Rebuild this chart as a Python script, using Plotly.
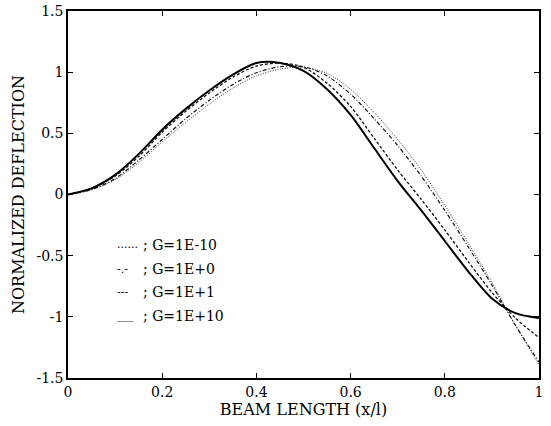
import plotly.graph_objects as go

x_vals = [0, .05, .1, .15, .2, .25, .3, .35, .4, .45, .5, .55, .6, .65, .7, .75, .8, .85, .9, .95, 1.0]

g_1e_10 = [0, 0.04, 0.12, 0.26, 0.43, 0.59, 0.74, 0.87, 0.97, 1.025, 1.04, 0.99, 0.86, 0.67, 0.45, 0.20, -0.09, -0.40, -0.72, -1.07, -1.39]
g_1e0 = [0, 0.04, 0.13, 0.28, 0.45, 0.62, 0.77, 0.90, 0.995, 1.045, 1.045, 0.97, 0.82, 0.62, 0.40, 0.15, -0.13, -0.43, -0.74, -1.07, -1.37]
g_1e1 = [0, 0.05, 0.15, 0.31, 0.51, 0.68, 0.83, 0.96, 1.05, 1.075, 1.04, 0.91, 0.72, 0.46, 0.20, -0.04, -0.29, -0.55, -0.80, -1.01, -1.17]
g_1e10 = [0, 0.05, 0.16, 0.33, 0.53, 0.70, 0.85, 0.98, 1.075, 1.075, 1.01, 0.86, 0.65, 0.38, 0.11, -0.13, -0.38, -0.63, -0.85, -0.97, -1.01]

legend_symbols = ["......", "-.-", "---", "___"]
legend_labels = ["; G=1E-10", "; G=1E+0", "; G=1E+1", "; G=1E+10"]
legend_y = [-0.41, -0.61, -0.80, -0.99]

x_ticks = [0, 0.2, 0.4, 0.6, 0.8, 1]
x_tick_text = ["0", "0.2", "0.4", "0.6", "0.8", "1"]
y_ticks = [-1.5, -1, -0.5, 0, 0.5, 1, 1.5]
y_tick_text = ["-1.5", "-1", "-0.5", "0", "0.5", "1", "1.5"]

FONT = "DejaVu Serif, serif"

fig = go.Figure()
styles = [
    (g_1e_10, dict(color="#333", width=1, dash="1px,1.5px")),
    (g_1e0, dict(color="#111", width=1.2, dash="4px,2px,1px,2px")),
    (g_1e1, dict(color="#111", width=1.3, dash="3px,2px")),
    (g_1e10, dict(color="black", width=2, dash="solid")),
]
for ys, ln in styles:
    fig.add_trace(go.Scatter(x=x_vals, y=ys, mode="lines", line=dict(shape="spline", smoothing=0.8, **ln),
                             showlegend=False, hoverinfo="skip"))

for sym, lab, ly in zip(legend_symbols, legend_labels, legend_y):
    fig.add_annotation(x=0.1, y=ly, xref="x", yref="y", text=sym, showarrow=False,
                       xanchor="left", yanchor="middle", font=dict(family=FONT, size=11, color="black"))
    fig.add_annotation(x=0.156, y=ly, xref="x", yref="y", text=lab, showarrow=False,
                       xanchor="left", yanchor="middle", font=dict(family=FONT, size=14, color="black"))

axis_common = dict(showline=True, linecolor="black", linewidth=1.5, mirror="ticks",
                   ticks="inside", ticklen=5, tickcolor="black", tickwidth=1.2,
                   showgrid=False, zeroline=False, automargin=False,
                   tickfont=dict(family=FONT, size=14, color="black"))

fig.update_xaxes(range=[0, 1], tickvals=x_ticks, ticktext=x_tick_text,
                 title=dict(text="BEAM LENGTH (x/l)", font=dict(family=FONT, size=16, color="black"), standoff=2),
                 **axis_common)
fig.update_yaxes(range=[-1.5, 1.5], tickvals=y_ticks, ticktext=y_tick_text,
                 title=dict(text="NORMALIZED DEFLECTION", font=dict(family=FONT, size=16, color="black"), standoff=8),
                 **axis_common)

fig.update_layout(width=551, height=426, margin=dict(l=68, r=12, t=11, b=48, autoexpand=False),
                  plot_bgcolor="white", paper_bgcolor="white")

fig.write_html("out.html", config={"displayModeBar": False},
               post_script="document.body.style.margin='0';document.body.style.overflow='hidden';")
